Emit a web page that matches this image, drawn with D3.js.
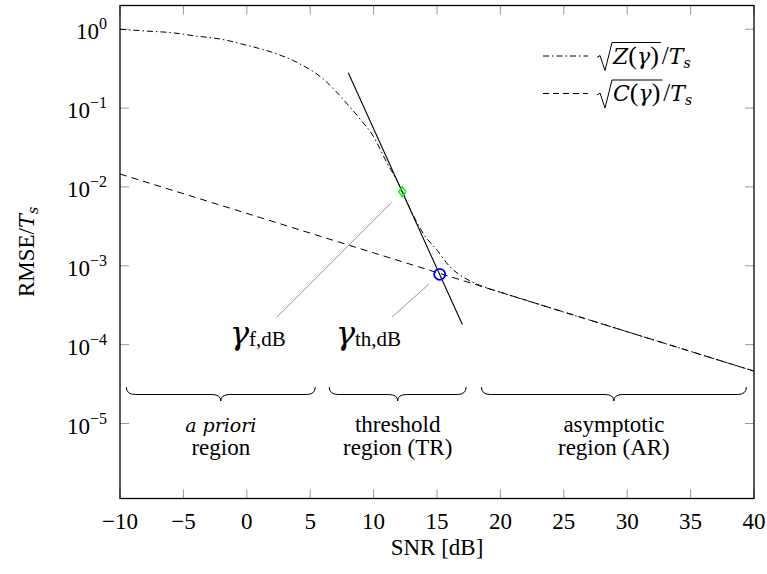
<!DOCTYPE html>
<html>
<head>
<meta charset="utf-8">
<script src="https://cdn.jsdelivr.net/npm/d3@7"></script>
<style>
 body { margin: 0; background: #fff; }
</style>
</head>
<body>
<script>
 // axis ticks
 var snrTicks = [-10, -5, 0, 5, 10, 15, 20, 25, 30, 35, 40];
 var rmseTicks = [0, -1, -2, -3, -4, -5]; // exponents of 10

 // sqrt(Z(gamma))/Ts
 var snrZ = [-10, -8, -6, -4, -2, 0, 2, 4, 6, 7, 8, 9, 10, 11, 12, 13, 14, 15, 16, 17, 18, 19, 20, 30, 40];
 var zValues = [1.0, 0.95, 0.906, 0.82, 0.746, 0.626, 0.51, 0.377, 0.236, 0.165, 0.109, 0.0706, 0.0434,
 	0.021, 0.0108, 0.0048, 0.00245, 0.00158, 0.00098, 0.00073, 0.0006, 0.00052, 0.000462, 0.000146, 0.0000462];

 // sqrt(C(gamma))/Ts
 var snrC = [-10, 0, 10, 20, 30, 40];
 var cValues = [0.0146, 0.00462, 0.00146, 0.000462, 0.000146, 0.0000462];

 // tangent through the steepest point
 var tangentSnr = [8, 17];
 var tangentValues = [0.28, 0.00018];

 // marked points
 var fPoint = [12.26, 0.0087];
 var thPoint = [15.21, 0.00078];

 // pins (start near label, end near the point)
 var pinStart = [[2.37, 2.24e-4], [11.46, 2.25e-4]];
 var pinEnd = [[11.43, 6.4e-3], [14.37, 5.86e-4]];
 var pinLabels = ["f,dB", "th,dB"];

 // region braces
 var regionFrom = [-9.5, 6.5, 18.5];
 var regionTo = [5.4, 17.3, 39.4];
 var regionLine1 = ["a priori", "threshold", "asymptotic"];
 var regionLine2 = ["region", "region (TR)", "region (AR)"];

 var serif = "Liberation Serif";
 var italicFont = "DejaVu Serif"; // Liberation Serif has no italic face here

 var margin = { top: 5.5, right: 13, bottom: 75.5, left: 120 };
 var W = 767, H = 574;
 var width = W - margin.left - margin.right,
 	height = H - margin.top - margin.bottom;

 var svg = d3.select("body").append("svg")
 	.attr("width", W)
 	.attr("height", H)
 	.attr("font-family", serif);

 var g = svg.append("g")
 	.attr("transform", "translate(" + margin.left + "," + margin.top + ")");

 var x = d3.scaleLinear().domain([-10, 40]).range([0, width]);
 var y = d3.scaleLog().domain([1.12e-6, 2.0]).range([height, 0]);

 g.append("clipPath").attr("id", "clip")
 	.append("rect").attr("width", width).attr("height", height);

 // italic helper
 function ital(sel, txt, size) {
 	return sel.append("tspan")
 		.attr("font-family", italicFont)
 		.attr("font-style", "italic")
 		.attr("font-size", size)
 		.text(txt);
 }

 // ticks on all four sides, pointing inward
 var tickLen = 9;
 var tickG = g.append("g").attr("stroke", "#999").attr("stroke-width", 1);
 snrTicks.forEach(function (t) {
 	tickG.append("line").attr("x1", x(t)).attr("x2", x(t)).attr("y1", height).attr("y2", height - tickLen);
 	tickG.append("line").attr("x1", x(t)).attr("x2", x(t)).attr("y1", 0).attr("y2", tickLen);
 });
 rmseTicks.forEach(function (e) {
 	var v = Math.pow(10, e);
 	tickG.append("line").attr("x1", 0).attr("x2", tickLen).attr("y1", y(v)).attr("y2", y(v));
 	tickG.append("line").attr("x1", width).attr("x2", width - tickLen).attr("y1", y(v)).attr("y2", y(v));
 });

 // tick labels
 g.selectAll(".xlab").data(snrTicks).enter().append("text")
 	.attr("class", "xlab")
 	.attr("x", function (d) { return x(d); })
 	.attr("y", height + 30)
 	.attr("text-anchor", "middle")
 	.attr("font-size", 23)
 	.text(function (d) { return d < 0 ? "\u2212" + Math.abs(d) : d; });

 var ylab = g.selectAll(".ylab").data(rmseTicks).enter().append("text")
 	.attr("class", "ylab")
 	.attr("x", -13)
 	.attr("y", function (d) { return y(Math.pow(10, d)) + 10; })
 	.attr("text-anchor", "end")
 	.attr("font-size", 23);
 ylab.append("tspan").text("10");
 ylab.append("tspan")
 	.attr("dy", -10)
 	.attr("font-size", 16)
 	.text(function (d) { return d < 0 ? "\u2212" + Math.abs(d) : d; });

 // axis titles
 g.append("text")
 	.attr("x", width / 2)
 	.attr("y", height + 56)
 	.attr("text-anchor", "middle")
 	.attr("font-size", 23)
 	.text("SNR [dB]");

 var yt = svg.append("text")
 	.attr("transform", "translate(34," + (margin.top + height / 2) + ") rotate(-90)")
 	.attr("text-anchor", "middle")
 	.attr("font-size", 23);
 yt.append("tspan").text("RMSE/");
 ital(yt, "T", 21);
 ital(yt, "s", 14).attr("dy", 4);

 // curves
 var line = d3.line()
 	.x(function (d) { return x(d[0]); })
 	.y(function (d) { return y(d[1]); });

 var plot = g.append("g").attr("clip-path", "url(#clip)");

 plot.append("path")
 	.datum(d3.zip(snrC, cValues))
 	.attr("fill", "none")
 	.attr("stroke", "#000")
 	.attr("stroke-width", 1)
 	.attr("stroke-dasharray", "7,5")
 	.attr("d", line);

 plot.append("path")
 	.datum(d3.zip(snrZ, zValues))
 	.attr("fill", "none")
 	.attr("stroke", "#000")
 	.attr("stroke-width", 1)
 	.attr("stroke-dasharray", "6,3,1.5,3")
 	.attr("d", line.curve(d3.curveMonotoneX));

 plot.append("path")
 	.datum(d3.zip(tangentSnr, tangentValues))
 	.attr("fill", "none")
 	.attr("stroke", "#000")
 	.attr("stroke-width", 1.1)
 	.attr("d", line.curve(d3.curveLinear));

 // pins
 pinStart.forEach(function (p, i) {
 	g.append("line")
 		.attr("x1", x(p[0])).attr("y1", y(p[1]))
 		.attr("x2", x(pinEnd[i][0])).attr("y2", y(pinEnd[i][1]))
 		.attr("stroke", "#999")
 		.attr("stroke-width", 1);
 	var t = g.append("text")
 		.attr("x", x(p[0]) + 9)
 		.attr("y", y(p[1]) + 27)
 		.attr("text-anchor", "end");
 	ital(t, "\u03b3", 32);
 	t.append("tspan").attr("dy", 2).attr("font-size", 21).text(pinLabels[i]);
 });

 // marks
 var s = 5;
 g.append("path")
 	.attr("transform", "translate(" + x(fPoint[0]) + "," + y(fPoint[1]) + ")")
 	.attr("d", "M0," + (-s) + "L" + (s * 0.7) + ",0L0," + s + "L" + (-s * 0.7) + ",0Z")
 	.attr("fill", "none")
 	.attr("stroke", "#00ff00")
 	.attr("stroke-width", 1.5);

 g.append("circle")
 	.attr("cx", x(thPoint[0]))
 	.attr("cy", y(thPoint[1]))
 	.attr("r", 5.5)
 	.attr("fill", "none")
 	.attr("stroke", "#0000ff")
 	.attr("stroke-width", 1.8);

 // braces
 var braceTop = 387, braceMid = 394.5, braceTip = 401;
 regionFrom.forEach(function (a, i) {
 	var x0 = x(a), x1 = x(regionTo[i]), xm = (x0 + x1) / 2;
 	var yTop = braceTop - margin.top, yMid = braceMid - margin.top, yTip = braceTip - margin.top;
 	var r = 9;
 	var dpath = "M" + x0 + "," + yTop +
 		"Q" + x0 + "," + yMid + " " + (x0 + r) + "," + yMid +
 		"L" + (xm - r) + "," + yMid +
 		"Q" + xm + "," + yMid + " " + xm + "," + yTip +
 		"Q" + xm + "," + yMid + " " + (xm + r) + "," + yMid +
 		"L" + (x1 - r) + "," + yMid +
 		"Q" + x1 + "," + yMid + " " + x1 + "," + yTop;
 	g.append("path")
 		.attr("d", dpath)
 		.attr("fill", "none")
 		.attr("stroke", "#000")
 		.attr("stroke-width", 1);
 	var t1 = g.append("text")
 		.attr("x", xm).attr("y", 432 - margin.top)
 		.attr("text-anchor", "middle")
 		.attr("font-size", 23);
 	if (i == 0) ital(t1, regionLine1[i], 19);
 	else t1.text(regionLine1[i]);
 	g.append("text")
 		.attr("x", xm).attr("y", 455 - margin.top)
 		.attr("text-anchor", "middle")
 		.attr("font-size", 23)
 		.text(regionLine2[i]);
 });

 // legend
 var legendNames = ["Z", "C"];
 var legendDash = ["6,3,1.5,3", "6,4"];
 legendNames.forEach(function (n, i) {
 	var ly = 56 + i * 37.5 - margin.top;
 	var lx0 = 543 - margin.left;
 	g.append("line")
 		.attr("x1", lx0).attr("x2", lx0 + 45)
 		.attr("y1", ly).attr("y2", ly)
 		.attr("stroke", "#000")
 		.attr("stroke-dasharray", legendDash[i]);
 	var bx = lx0 + 54, by = ly + 7.5;
 	var inner = g.append("text")
 		.attr("x", bx + 16).attr("y", by)
 		.attr("font-family", serif)
 		.attr("font-size", 26);
 	ital(inner, n, 22);
 	inner.append("tspan").text("(");
 	ital(inner, "\u03b3", 22);
 	inner.append("tspan").text(")");
 	var w = inner.node().getComputedTextLength();
 	var top = by - 21;
 	// radical sign with its bar
 	g.append("path")
 		.attr("d", "M" + bx + "," + (by - 6) + "L" + (bx + 3) + "," + (by - 8) +
 			"L" + (bx + 8) + "," + (by + 7) + "L" + (bx + 15) + "," + top +
 			"L" + (bx + 18 + w) + "," + top)
 		.attr("fill", "none")
 		.attr("stroke", "#000")
 		.attr("stroke-width", 1);
 	var rest = g.append("text")
 		.attr("x", bx + 19 + w).attr("y", by)
 		.attr("font-size", 25);
 	rest.append("tspan").text("/");
 	ital(rest, "T", 22);
 	ital(rest, "s", 14).attr("dy", 4);
 });

 // frame
 g.append("rect")
 	.attr("width", width)
 	.attr("height", height)
 	.attr("fill", "none")
 	.attr("stroke", "#000")
 	.attr("stroke-width", 1.3);

 // make sure every text node carries the family itself
 svg.selectAll("text").attr("font-family", serif);
</script>
</body>
</html>
